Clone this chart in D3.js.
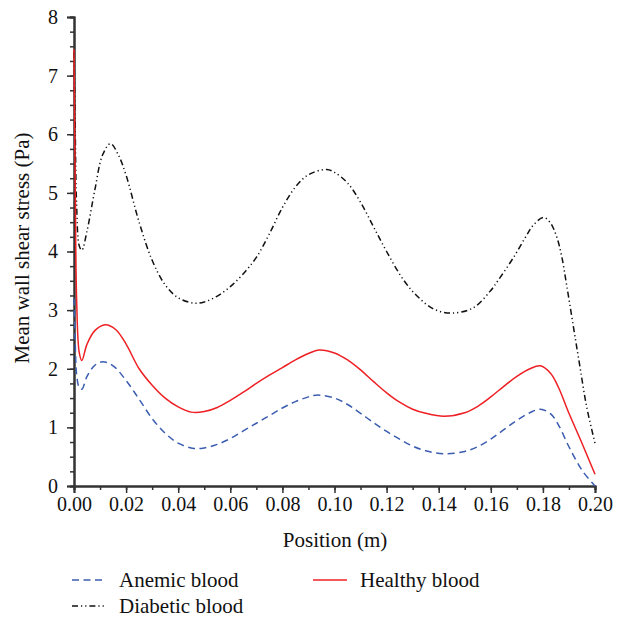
<!DOCTYPE html>
<html><head><meta charset="utf-8">
<script src="https://cdn.jsdelivr.net/npm/d3@7"></script>
<style>body{margin:0;background:#fff}svg{display:block}</style>
</head><body>
<script>
// Data
const seriesNames = ["Anemic blood", "Healthy blood", "Diabetic blood"];
const xTickLabels = ["0.00","0.02","0.04","0.06","0.08","0.10","0.12","0.14","0.16","0.18","0.20"];
const yTickLabels = ["0","1","2","3","4","5","6","7","8"];

const healthyX = [0,0.0005,0.001,0.002,0.003,0.005,0.008,0.012,0.016,0.02,0.025,0.03,0.035,0.04,0.045,0.05,0.055,0.06,0.065,0.07,0.075,0.08,0.085,0.09,0.094,0.1,0.105,0.11,0.115,0.12,0.125,0.13,0.135,0.142,0.15,0.155,0.16,0.165,0.17,0.175,0.179,0.183,0.186,0.19,0.195,0.2];
const healthyY = [7.45,5.0,3.2,2.28,2.14,2.42,2.65,2.75,2.67,2.42,2.0,1.72,1.5,1.35,1.26,1.27,1.34,1.46,1.6,1.75,1.89,2.02,2.15,2.26,2.32,2.27,2.15,1.98,1.78,1.59,1.43,1.31,1.24,1.19,1.25,1.36,1.52,1.7,1.87,2.0,2.05,1.92,1.68,1.24,0.73,0.2];

const anemicX = [0,0.0005,0.001,0.002,0.003,0.005,0.008,0.011,0.015,0.02,0.025,0.03,0.035,0.04,0.046,0.05,0.055,0.06,0.065,0.07,0.075,0.08,0.085,0.09,0.093,0.1,0.105,0.11,0.115,0.12,0.125,0.13,0.135,0.142,0.15,0.155,0.16,0.165,0.17,0.175,0.179,0.183,0.186,0.19,0.195,0.2];
const anemicY = [3.2,2.4,1.9,1.68,1.65,1.87,2.06,2.12,2.05,1.8,1.48,1.15,0.9,0.73,0.64,0.65,0.71,0.81,0.94,1.07,1.2,1.33,1.44,1.52,1.55,1.5,1.39,1.24,1.08,0.93,0.8,0.68,0.6,0.55,0.59,0.67,0.8,0.96,1.12,1.25,1.31,1.23,1.04,0.67,0.27,0.0];

const diabeticX = [0,0.0005,0.001,0.002,0.003,0.005,0.008,0.011,0.014,0.017,0.02,0.025,0.03,0.035,0.04,0.046,0.05,0.055,0.06,0.065,0.07,0.075,0.08,0.085,0.09,0.097,0.1,0.105,0.11,0.115,0.12,0.1264,0.1315,0.138,0.145,0.1533,0.1597,0.163,0.1686,0.1738,0.1763,0.1802,0.1827,0.1853,0.1872,0.1891,0.1917,0.1942,0.1968,0.2];
const diabeticY = [7.4,6.0,4.8,4.1,4.02,4.35,5.05,5.65,5.84,5.65,5.3,4.5,3.85,3.43,3.21,3.12,3.14,3.24,3.4,3.62,3.9,4.3,4.75,5.1,5.31,5.4,5.35,5.17,4.84,4.42,4.0,3.52,3.25,3.02,2.95,3.04,3.32,3.52,3.89,4.28,4.45,4.58,4.5,4.25,3.92,3.43,2.72,2.04,1.35,0.73];

const W = 628, H = 620;
const svg = d3.select("body").append("svg").attr("width", W).attr("height", H);
const x = d3.scaleLinear().domain([0, 0.2]).range([74, 595]);
const y = d3.scaleLinear().domain([0, 8]).range([486, 17]);
const FONT = "'Liberation Serif', 'Noto Serif', 'DejaVu Serif', 'Times New Roman', Times, serif";
const axisColor = "#333";

// Minor ticks
const xAxisMinor = d3.axisBottom(x).tickValues(d3.range(0, 21).map(i => i * 0.01)).tickSize(4).tickFormat("");
const yAxisMinor = d3.axisLeft(y).tickValues(d3.range(0, 33).map(i => i * 0.25)).tickSize(4).tickFormat("");
svg.append("g").attr("transform", `translate(0,${y(0)})`).call(xAxisMinor);
svg.append("g").attr("transform", `translate(${x(0)},0)`).call(yAxisMinor);

const xAxis = d3.axisBottom(x).tickValues(xTickLabels.map(Number)).tickSize(7).tickPadding(4).tickFormat((d,i) => xTickLabels[i]);
const yAxis = d3.axisLeft(y).tickValues(yTickLabels.map(Number)).tickSize(7).tickPadding(9).tickFormat((d,i) => yTickLabels[i]);
svg.append("g").attr("class","ax").attr("transform", `translate(0,${y(0)})`).call(xAxis);
svg.append("g").attr("class","ax").attr("transform", `translate(${x(0)},0)`).call(yAxis);

svg.selectAll(".domain").attr("stroke", axisColor).attr("stroke-width", 2);
svg.selectAll(".tick line").attr("stroke", axisColor).attr("stroke-width", 1.5);
svg.selectAll(".tick text").style("font-family", FONT).style("font-size", "20px").attr("fill", "#111");

// Axis titles
svg.append("text").attr("x", 335).attr("y", 547).attr("text-anchor", "middle")
  .style("font-family", FONT).style("font-size", "21px").attr("fill", "#111").text("Position (m)");
svg.append("text").attr("transform", "translate(29,248) rotate(-90)").attr("text-anchor", "middle")
  .style("font-family", FONT).style("font-size", "21px").attr("fill", "#111").text("Mean wall shear stress (Pa)");

const line = d3.line().x(d => x(d[0])).y(d => y(d[1])).curve(d3.curveCatmullRom.alpha(0.5));
const styles = [
  {xs: anemicX, ys: anemicY, color: "#3b5db0", dash: "7,4.5", w: 1.5},
  {xs: healthyX, ys: healthyY, color: "#ee2024", dash: null, w: 1.5},
  {xs: diabeticX, ys: diabeticY, color: "#111", dash: "6,3,1.2,3,1.2,3", w: 1.5}
];
const plot = svg.append("g");
[2,1,0].forEach(i => {
  const s = styles[i];
  plot.append("path").datum(s.xs.map((v,j) => [v, s.ys[j]]))
    .attr("d", line).attr("fill", "none").attr("stroke", s.color)
    .attr("stroke-width", s.w).attr("stroke-dasharray", s.dash);
});

// Legend
const legendPos = [[72, 580], [313, 580], [72, 606]];
seriesNames.forEach((name, i) => {
  const s = styles[i];
  const [lx, ly] = legendPos[i];
  svg.append("line").attr("x1", lx).attr("x2", lx + 34).attr("y1", ly).attr("y2", ly)
    .attr("stroke", s.color).attr("stroke-width", 1.5).attr("stroke-dasharray", s.dash);
  svg.append("text").attr("x", lx + 47).attr("y", ly + 7).style("font-family", FONT)
    .style("font-size", "21px").attr("fill", "#111").text(name);
});
</script>
</body></html>
